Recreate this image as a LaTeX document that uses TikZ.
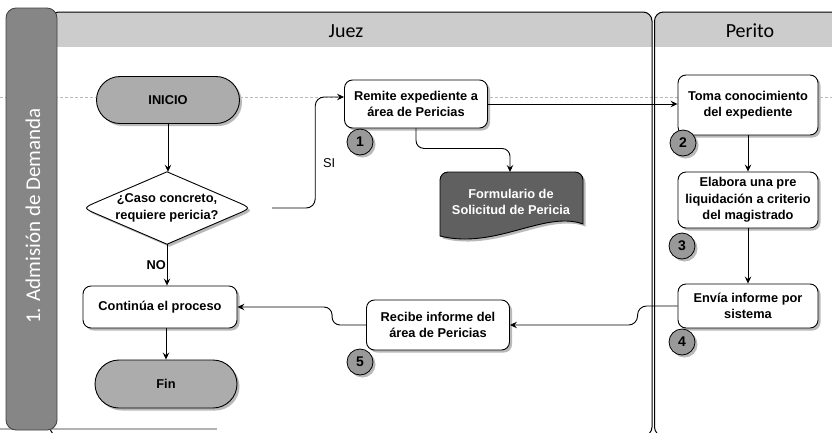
\documentclass[tikz,border=0pt]{standalone}
\usepackage{fontspec}
\setmainfont{Liberation Sans}
\newfontfamily\lanefont{Carlito}
\usetikzlibrary{arrows.meta,shapes.misc,shapes.geometric,shadows,calc}

\begin{document}
\begin{tikzpicture}[x=1pt,y=-1pt,
  conn/.style={draw=black, line width=0.9pt, -{Stealth[length=7pt,width=6.5pt,inset=2.5pt]}},
  boxshadow/.style={drop shadow={shadow xshift=2.5pt,shadow yshift=-2.5pt,fill=gray!55,opacity=1}},
  txt/.style={font=\bfseries\fontsize{12.8}{16.3}\selectfont},
  procbox/.style={draw, line width=0.9pt, rounded corners=8pt, fill=white, align=center,
                  inner sep=0pt, txt, boxshadow},
  terminal/.style={rounded rectangle, draw, line width=0.9pt, fill=gray!65, inner sep=0pt,
                   txt, boxshadow},
  stepnum/.style={circle, draw, line width=0.8pt, fill=gray!80, minimum size=26pt,
                  inner sep=0pt, font=\bfseries\fontsize{14}{14}\selectfont, boxshadow},
  lanehead/.style={font=\lanefont\fontsize{20}{22}\selectfont, anchor=base, inner sep=0pt}]

\useasboundingbox (0,0) rectangle (832,432);
\clip (0,0) rectangle (832,432);

% faint guide line across the sheet
\draw[gray!55, line width=0.4pt, dash pattern=on 3pt off 2pt] (0,97) -- (832,97);

% ---- swimlanes ----
\begin{scope}
  \clip[rounded corners=9pt] (50,12) rectangle (652,436);
  \fill[gray!40] (50,12) rectangle (652,47);
\end{scope}
\draw[line width=1pt, rounded corners=9pt] (50,12) rectangle (652,436);

\begin{scope}
  \clip[rounded corners=9pt] (654.5,12) rectangle (860,436);
  \fill[gray!40] (654.5,12) rectangle (860,47);
\end{scope}
\draw[line width=1pt, rounded corners=9pt] (654.5,12) rectangle (860,436);

\node[lanehead] (juez) at (346,37) {Juez};
\node[lanehead] (perito) at (750,37) {Perito};

% phase band on the left
\draw[gray!60, line width=1.5pt] (0,429) -- (217,429);
\draw[fill=gray!95, draw=black!75, line width=0.8pt, rounded corners=10pt] (6,8) rectangle (57,430);
\node[rotate=90, text=white, font=\lanefont\fontsize{21}{23}\selectfont] (fase) at (33,216)
  {1. Admisión de Demanda};

% ---- flow nodes ----
\node[terminal, minimum width=143pt, minimum height=47pt] (inicio) at (168,100) {INICIO};

\node[diamond, minimum width=168pt, minimum height=72pt, inner sep=0pt] (dec) at (167,208) {};
\draw[line width=0.9pt, fill=white, boxshadow]
  (dec.north) -- ($(dec.north)!0.82!(dec.west)$) .. controls (dec.west) .. ($(dec.south)!0.82!(dec.west)$)
  -- (dec.south) -- ($(dec.south)!0.82!(dec.east)$) .. controls (dec.east) .. ($(dec.north)!0.82!(dec.east)$)
  -- cycle;
\node[txt, align=center, inner sep=0pt] (dectext) at (dec.center) {¿Caso concreto,\\requiere pericia?};

\node[procbox, minimum width=154pt, minimum height=42pt] (cont) at (160,307) {Continúa el proceso};
\node[terminal, minimum width=142pt, minimum height=48pt] (fin) at (166,384) {Fin};

\node[procbox, minimum width=143pt, minimum height=48pt] (remite) at (416,104) {Remite expediente a\\área de Pericias};
\node[procbox, minimum width=143pt, minimum height=50pt] (recibe) at (438,325) {Recibe informe del\\área de Pericias};

% document shape
\draw[line width=0.9pt, fill=gray!75!black, boxshadow]
  (440,236) -- (440,180) arc[start angle=180, end angle=90, radius=8pt] -- (575,172)
  arc[start angle=90, end angle=0, radius=8pt] -- (583,224)
  .. controls (545,210) and (495,250) .. (440,236) -- cycle;
\coordinate (formtop) at (510,172);
\node[txt, text=white, align=center, inner sep=0pt] (form) at (511,202) {Formulario de\\Solicitud de Pericia};

\node[procbox, minimum width=140pt, minimum height=60pt] (toma) at (748,105) {Toma conocimiento\\del expediente};
\node[procbox, minimum width=140pt, minimum height=56pt] (elab) at (748,200) {Elabora una pre\\liquidación a criterio\\del magistrado};
\node[procbox, minimum width=140pt, minimum height=44pt] (envia) at (748,306) {Envía informe por\\sistema};

% step numbers
\node[stepnum] (n1) at (360,142) {1};
\node[stepnum] (n2) at (683,143) {2};
\node[stepnum] (n3) at (682,246) {3};
\node[stepnum] (n4) at (682,342) {4};
\node[stepnum] (n5) at (360,362) {5};

% ---- connectors ----
\draw[conn] (inicio.south) -- (inicio.south |- dec.north);
\draw[conn] (dec.south) -- (dec.south |- cont.north);
\node[txt, anchor=east, inner sep=1pt] (no) at (167,265) {NO};
\draw[conn] (fin.north |- cont.south) -- (fin.north);

\draw[conn, rounded corners=9pt] ([xshift=21pt]dec.east) -- ++(43,0) |- ([yshift=7pt]remite.west);
\node[txt, font=\fontsize{12.8}{14}\selectfont, anchor=west, inner sep=0pt] (si) at (323,163) {SI};

\draw[conn] (remite.east) -- (remite.east -| toma.west);
\draw[conn, rounded corners=8pt] (remite.south) -- ++(0,20) -| (formtop);

\draw[conn] (toma.south) -- (elab.north);
\draw[conn] (elab.south) -- (envia.north);

\draw[conn, rounded corners=9pt] (envia.west) -- ++(-40,0) |- (recibe.east);
\draw[conn, rounded corners=8pt] (recibe.west) -- ++(-34,0) |- (cont.east);

\end{tikzpicture}
\end{document}
